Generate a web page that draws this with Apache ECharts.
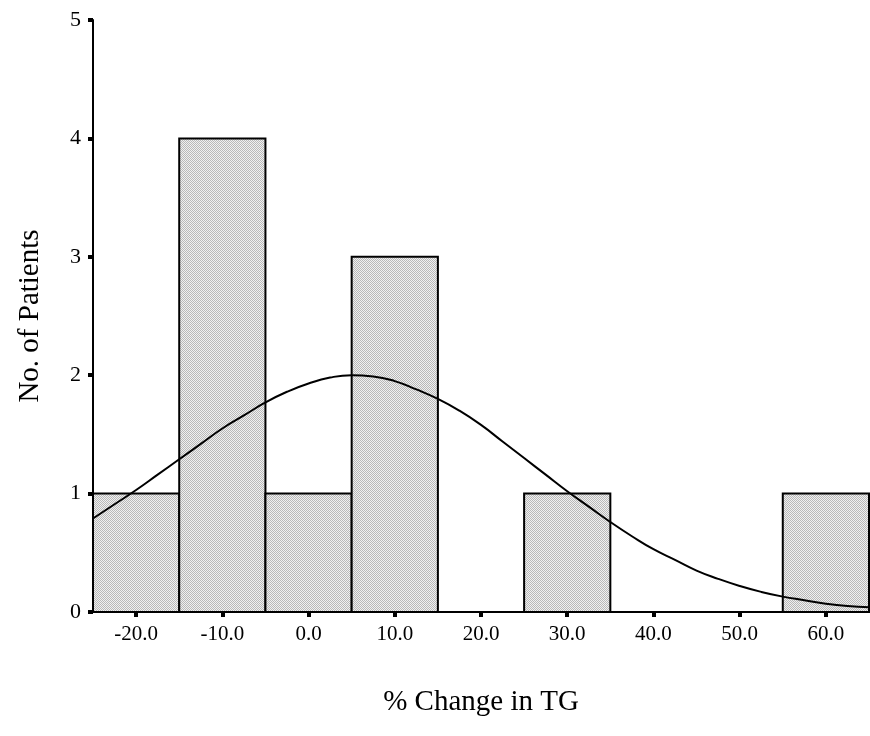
<!DOCTYPE html>
<html>
<head>
<meta charset="utf-8">
<title>% Change in TG</title>
<script src="https://cdn.jsdelivr.net/npm/echarts@6/dist/echarts.min.js"></script>
<style>
  html, body { margin: 0; padding: 0; background: #fff; }
  #main { width: 870px; height: 736px; }
</style>
</head>
<body>
<div id="main"></div>
<script>
// histogram bins (width 10) and counts
const binStarts = [-25, -15, -5, 5, 15, 25, 35, 45, 55];
const binEnds = [-15, -5, 5, 15, 25, 35, 45, 55, 65];
const counts = [1, 4, 1, 3, 0, 1, 0, 0, 1];

// normal curve
const curveX = [-25, -22.5, -20, -17.5, -15, -12.5, -10, -7.5, -5, -2.5, 0, 2.5, 5, 7.5, 10, 12.5, 15, 17.5, 20, 22.5,
  25, 27.5, 30, 32.5, 35, 37.5, 40, 42.5, 45, 47.5, 50, 52.5, 55, 57.5, 60, 62.5, 65];
const curveY = [0.79, 0.91, 1.03, 1.16, 1.29, 1.42, 1.55, 1.66, 1.77, 1.86, 1.93, 1.98, 2.0, 1.99, 1.95, 1.88, 1.80, 1.70, 1.58, 1.44,
  1.30, 1.16, 1.02, 0.89, 0.76, 0.64, 0.53, 0.44, 0.35, 0.28, 0.22, 0.17, 0.13, 0.10, 0.07, 0.05, 0.04];

const xTicks = [-20, -10, 0, 10, 20, 30, 40, 50, 60];

// fine gray texture for the bars
const pat = document.createElement('canvas');
pat.width = 2; pat.height = 2;
const pctx = pat.getContext('2d');
pctx.fillStyle = '#f0f0f0'; pctx.fillRect(0, 0, 2, 2);
pctx.fillStyle = '#b8b8b8'; pctx.fillRect(0, 0, 1, 1); pctx.fillRect(1, 1, 1, 1);

const font = '"Liberation Serif", "DejaVu Serif", serif';

const chart = echarts.init(document.getElementById('main'));
chart.setOption({
  animation: false,
  textStyle: { fontFamily: font, color: '#000' },
  grid: { left: 93, right: 1, top: 20, bottom: 124, outerBoundsMode: 'none', containLabel: false },
  xAxis: {
    type: 'value',
    min: -25,
    max: 65,
    name: '% Change in TG',
    nameLocation: 'middle',
    nameGap: 76,
    nameTextStyle: { fontFamily: font, fontSize: 29, color: '#000' },
    axisLine: { onZero: false, lineStyle: { color: '#000', width: 2 } },
    axisTick: { customValues: xTicks, length: 5, lineStyle: { color: '#000', width: 4 } },
    axisLabel: {
      customValues: xTicks, fontFamily: font, fontSize: 21, color: '#000', margin: 12,
      formatter: v => v.toFixed(1)
    },
    splitLine: { show: false }
  },
  yAxis: {
    type: 'value',
    min: 0,
    max: 5,
    interval: 1,
    name: 'No. of Patients',
    nameLocation: 'middle',
    nameGap: 48,
    nameTextStyle: { fontFamily: font, fontSize: 29, color: '#000' },
    axisLine: { show: true, onZero: false, lineStyle: { color: '#000', width: 2 } },
    axisTick: { show: true, length: 5, lineStyle: { color: '#000', width: 4 } },
    axisLabel: { fontFamily: font, fontSize: 22, color: '#000', margin: 12 },
    splitLine: { show: false }
  },
  series: [
    {
      type: 'custom',
      data: counts.map((c, i) => [binStarts[i], binEnds[i], c]),
      encode: { x: [0, 1], y: 2 },
      renderItem: function (params, api) {
        const c = api.value(2);
        if (!c) return null;
        const p0 = api.coord([api.value(0), c]);
        const p1 = api.coord([api.value(1), 0]);
        return {
          type: 'rect',
          shape: { x: p0[0], y: p0[1], width: p1[0] - p0[0], height: p1[1] - p0[1] },
          style: { fill: { image: pat, repeat: 'repeat' }, stroke: '#000', lineWidth: 2 }
        };
      },
      z: 1
    },
    {
      type: 'line',
      data: curveX.map((x, i) => [x, curveY[i]]),
      smooth: true,
      showSymbol: false,
      lineStyle: { color: '#000', width: 2 },
      z: 3
    }
  ]
});
</script>
</body>
</html>
